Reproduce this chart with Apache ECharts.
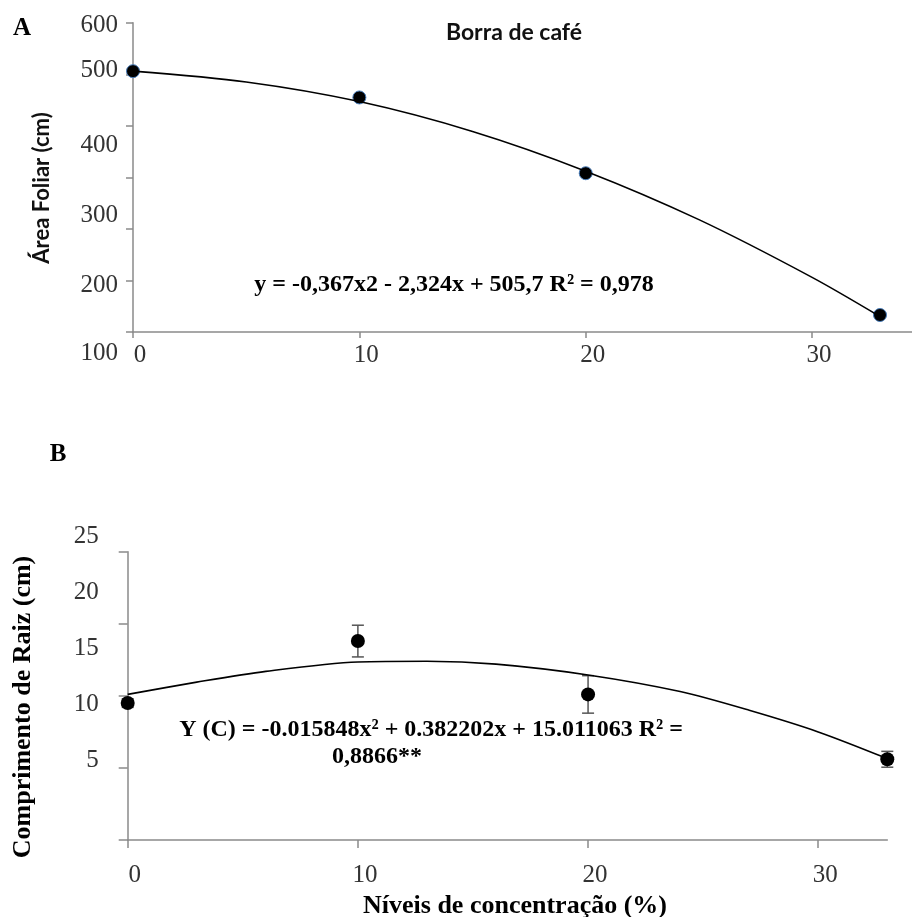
<!DOCTYPE html>
<html>
<head>
<meta charset="utf-8">
<script src="https://cdn.jsdelivr.net/npm/echarts@6/dist/echarts.min.js"></script>
<style>
  html, body { margin: 0; padding: 0; background: #fff; }
  #chart { width: 912px; height: 917px; }
</style>
</head>
<body>
<div id="chart"></div>
<script>
// níveis de concentração (%)
const niveis = [0, 10, 20, 33];
const xTicks = [0, 10, 20, 30];

// A - área foliar (borra de café)
const areaFoliar = [506, 455, 308, 33];
const areaCurvaX = [0, 5, 10, 15, 20, 25, 30, 33];
const areaCurva = [506, 485, 447, 389, 312, 218, 106, 30];
const areaTickLabels = ['600', '500', '400', '300', '200', '100'];

// B - comprimento de raiz
const raizMedia = [14.5, 18.8, 15.1, 10.6];
const raizErro = [0.3, 1.1, 1.3, 0.55];
const raizCurvaX = [0, 3, 6, 10, 13, 16, 20, 24, 27, 30, 33];
const raizCurva = [15.1, 15.95, 16.7, 17.35, 17.4, 17.2, 16.45, 15.3, 14.0, 12.5, 10.65];
const raizTickLabels = [25, 20, 15, 10, 5];

const SERIF = 'Liberation Serif';
const SANS = 'Lato';
const AXIS_GRAY = '#8a8a8a';
const LABEL_COLOR = '#333';

// the printed tick labels of A do not sit on the ticks: offsets (px) from the top label
const areaLabelOffsets = [0, 45, 120, 190, 260, 328];

const pairs = (xs, ys) => xs.map((x, i) => [x, ys[i]]);

const axisLine = { show: true, onZero: false, lineStyle: { color: AXIS_GRAY, width: 1.5 } };

const chart = echarts.init(document.getElementById('chart'));

const option = {
  backgroundColor: '#fff',
  animation: false,
  grid: [
    { left: 133, top: 22.7, width: 778.7, height: 309.3 },   // A
    { left: 133, top: 25, width: 778.7, height: 328 },       // A tick labels
    { left: 127.7, top: 551.7, width: 759.6, height: 288.3 }, // B
    { left: 127.7, top: 536.7, width: 759.6, height: 223.3 }  // B tick labels
  ],
  xAxis: [
    {
      gridIndex: 0, type: 'value', min: 0, max: 34.4,
      axisLine: axisLine,
      axisTick: { show: true, length: 6, customValues: xTicks, lineStyle: { color: AXIS_GRAY, width: 1.5 } },
      axisLabel: { customValues: xTicks, margin: 11, padding: [0, 0, 0, 14], color: LABEL_COLOR, fontFamily: SERIF, fontSize: 25 },
      splitLine: { show: false }
    },
    { gridIndex: 1, type: 'value', show: false, min: 0, max: 1 },
    {
      gridIndex: 2, type: 'value', min: 0, max: 33,
      axisLine: axisLine,
      axisTick: { show: true, length: 8, customValues: xTicks, lineStyle: { color: AXIS_GRAY, width: 1.5 } },
      axisLabel: { customValues: xTicks, margin: 23, padding: [0, 0, 0, 14], color: LABEL_COLOR, fontFamily: SERIF, fontSize: 25 },
      splitLine: { show: false }
    },
    { gridIndex: 3, type: 'value', show: false, min: 0, max: 1 }
  ],
  yAxis: [
    {
      gridIndex: 0, type: 'value', min: 0, max: 600, interval: 100,
      axisLine: axisLine,
      axisTick: { show: true, length: 7, lineStyle: { color: AXIS_GRAY, width: 1.5 } },
      axisLabel: { show: false },
      splitLine: { show: false }
    },
    {
      gridIndex: 1, type: 'value', min: 0, max: 328, inverse: true,
      axisLine: { show: false }, axisTick: { show: false }, splitLine: { show: false },
      axisLabel: {
        customValues: areaLabelOffsets,
        formatter: v => areaTickLabels[areaLabelOffsets.indexOf(v)],
        margin: 15, color: LABEL_COLOR, fontFamily: SERIF, fontSize: 25
      }
    },
    {
      gridIndex: 2, type: 'value', min: 5, max: 25, interval: 5,
      axisLine: axisLine,
      axisTick: { show: true, length: 9, lineStyle: { color: AXIS_GRAY, width: 1.5 } },
      axisLabel: { show: false },
      splitLine: { show: false }
    },
    {
      gridIndex: 3, type: 'value', min: 5, max: 25, interval: 5,
      axisLine: { show: false }, axisTick: { show: false }, splitLine: { show: false },
      axisLabel: { customValues: raizTickLabels, margin: 29, color: LABEL_COLOR, fontFamily: SERIF, fontSize: 25 }
    }
  ],
  series: [
    {
      type: 'line', xAxisIndex: 0, yAxisIndex: 0,
      data: pairs(areaCurvaX, areaCurva),
      smooth: 0.3, showSymbol: false, clip: false,
      lineStyle: { color: '#000', width: 1.6 }
    },
    {
      type: 'scatter', xAxisIndex: 0, yAxisIndex: 0,
      data: pairs(niveis, areaFoliar),
      symbolSize: 13, clip: false,
      itemStyle: { color: '#000', borderColor: '#4a7ebb', borderWidth: 1, opacity: 1 }
    },
    {
      type: 'line', xAxisIndex: 2, yAxisIndex: 2,
      data: pairs(raizCurvaX, raizCurva),
      smooth: 0.3, showSymbol: false, clip: false,
      lineStyle: { color: '#000', width: 1.6 }
    },
    {
      type: 'custom', xAxisIndex: 2, yAxisIndex: 2,
      data: niveis.map((x, i) => [x, raizMedia[i] - raizErro[i], raizMedia[i] + raizErro[i]]),
      renderItem: function (params, api) {
        const lo = api.coord([api.value(0), api.value(1)]);
        const hi = api.coord([api.value(0), api.value(2)]);
        const w = 6;
        const st = { stroke: '#555', lineWidth: 1.5 };
        return {
          type: 'group',
          children: [
            { type: 'line', shape: { x1: hi[0], y1: hi[1], x2: lo[0], y2: lo[1] }, style: st },
            { type: 'line', shape: { x1: hi[0] - w, y1: hi[1], x2: hi[0] + w, y2: hi[1] }, style: st },
            { type: 'line', shape: { x1: lo[0] - w, y1: lo[1], x2: lo[0] + w, y2: lo[1] }, style: st }
          ]
        };
      }
    },
    {
      type: 'scatter', xAxisIndex: 2, yAxisIndex: 2,
      data: pairs(niveis, raizMedia),
      symbolSize: 14, clip: false,
      itemStyle: { color: '#000', opacity: 1 }
    }
  ],
  graphic: [
    { type: 'text', x: 22, y: 29, style: { text: 'A', font: 'bold 25px ' + SERIF, fill: '#000', align: 'center', verticalAlign: 'middle' } },
    { type: 'text', x: 514, y: 33, style: { text: 'Borra de café', font: 'bold 23px ' + SANS, fill: '#111', align: 'center', verticalAlign: 'middle' } },
    { type: 'text', x: 42, y: 188, rotation: Math.PI / 2, style: { text: 'Área Foliar (cm)', font: 'bold 22px ' + SANS, fill: '#111', align: 'center', verticalAlign: 'middle' } },
    { type: 'text', x: 454, y: 285, style: { text: 'y = -0,367x2 - 2,324x + 505,7 R² = 0,978', font: 'bold 24px ' + SERIF, fill: '#000', align: 'center', verticalAlign: 'middle' } },

    { type: 'text', x: 58, y: 455, style: { text: 'B', font: 'bold 25px ' + SERIF, fill: '#000', align: 'center', verticalAlign: 'middle' } },
    { type: 'text', x: 23, y: 707, rotation: Math.PI / 2, style: { text: 'Comprimento de Raiz (cm)', font: 'bold 26px ' + SERIF, fill: '#000', align: 'center', verticalAlign: 'middle' } },
    { type: 'text', x: 515, y: 906, style: { text: 'Níveis de concentração (%)', font: 'bold 26px ' + SERIF, fill: '#000', align: 'center', verticalAlign: 'middle' } },
    { type: 'text', x: 431, y: 730, style: { text: 'Y (C) = -0.015848x² + 0.382202x + 15.011063 R² =', font: 'bold 24px ' + SERIF, fill: '#000', align: 'center', verticalAlign: 'middle' } },
    { type: 'text', x: 377, y: 757, style: { text: '0,8866**', font: 'bold 24px ' + SERIF, fill: '#000', align: 'center', verticalAlign: 'middle' } }
  ]
};

chart.setOption(option);
</script>
</body>
</html>
